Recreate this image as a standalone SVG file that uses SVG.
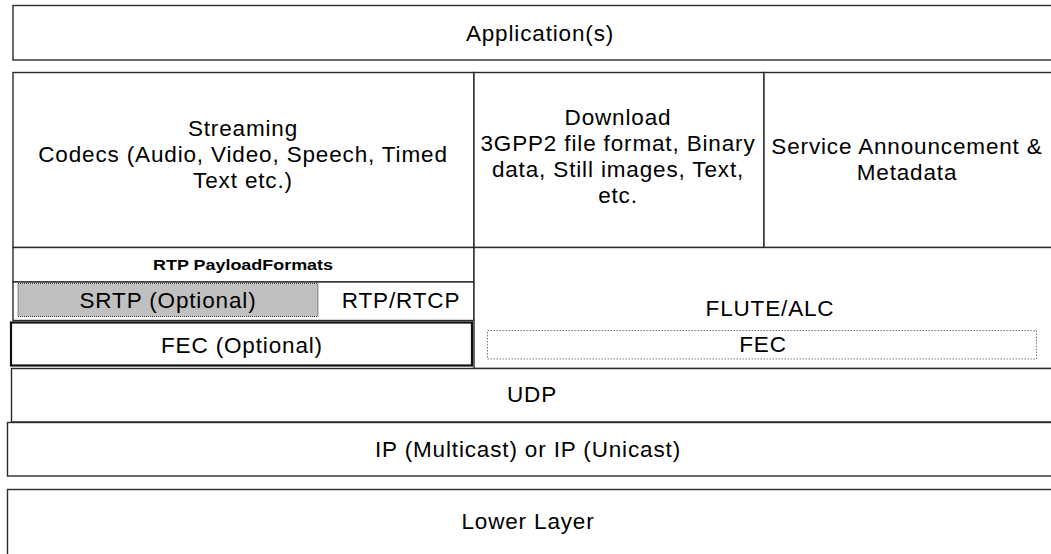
<svg xmlns="http://www.w3.org/2000/svg" width="1051" height="554" viewBox="0 0 1051 554">
<style>
.box{fill:#fff;stroke:#2a2a2a;stroke-width:1.4}
.t{font-family:"Liberation Sans",Arial,sans-serif;font-size:22.5px;letter-spacing:0.85px;fill:#000;text-anchor:middle}
.b{font-family:"Liberation Sans",Arial,sans-serif;font-size:14.5px;font-weight:bold;fill:#000;text-anchor:middle}
</style>
<rect width="1051" height="554" fill="#fff"/>
<g id="application">
<rect class="box" x="13" y="5.5" width="1050" height="54.5"/>
<text class="t" x="540" y="41">Application(s)</text>
</g>
<g id="streaming">
<rect class="box" x="13" y="72.5" width="461" height="175"/>
<text class="t" x="243" y="136">Streaming</text>
<text class="t" x="243" y="162">Codecs (Audio, Video, Speech, Timed</text>
<text class="t" x="243" y="188">Text etc.)</text>
</g>
<g id="download">
<rect class="box" x="474" y="72.5" width="290" height="175"/>
<text class="t" x="618" y="125">Download</text>
<text class="t" x="618" y="151">3GPP2 file format, Binary</text>
<text class="t" x="618" y="177">data, Still images, Text,</text>
<text class="t" x="618" y="203">etc.</text>
</g>
<g id="service">
<rect class="box" x="764" y="72.5" width="300" height="175"/>
<text class="t" x="907" y="154">Service Announcement &amp;</text>
<text class="t" x="907" y="180">Metadata</text>
</g>
<g id="rtp-payload">
<rect class="box" x="13" y="247.5" width="461" height="34.5"/>
<text class="b" x="243" y="270" textLength="180" lengthAdjust="spacingAndGlyphs">RTP PayloadFormats</text>
</g>
<g id="rtp-rtcp">
<rect class="box" x="13" y="282" width="461" height="38.5"/>
<text class="t" x="401" y="308">RTP/RTCP</text>
</g>
<g id="srtp">
<rect x="18" y="283.5" width="300" height="33" fill="#c0c0c0" stroke="#333" stroke-width="1" stroke-dasharray="1,1"/>
<text class="t" x="168" y="308">SRTP (Optional)</text>
</g>
<g id="fec-optional">
<rect x="11" y="322.5" width="461" height="43" fill="#fff" stroke="#111" stroke-width="2.2"/>
<text class="t" x="242" y="353">FEC (Optional)</text>
</g>
<g id="flute-alc">
<rect class="box" x="474" y="247.5" width="600" height="121"/>
<text class="t" x="770" y="316">FLUTE/ALC</text>
</g>
<g id="fec">
<rect x="487.5" y="330.5" width="549" height="28.5" fill="none" stroke="#777" stroke-width="1" stroke-dasharray="1.5,1.5"/>
<text class="t" x="763" y="352">FEC</text>
</g>
<g id="udp">
<rect class="box" x="11.5" y="368.5" width="1050" height="53.5"/>
<text class="t" x="532" y="402">UDP</text>
</g>
<g id="ip">
<rect class="box" x="7.5" y="422.5" width="1050" height="53.5"/>
<text class="t" x="528" y="457">IP (Multicast) or IP (Unicast)</text>
</g>
<g id="lower-layer">
<rect class="box" x="7.5" y="489.5" width="1050" height="70"/>
<text class="t" x="528" y="529">Lower Layer</text>
</g>
<g id="connectors"/>
</svg>
